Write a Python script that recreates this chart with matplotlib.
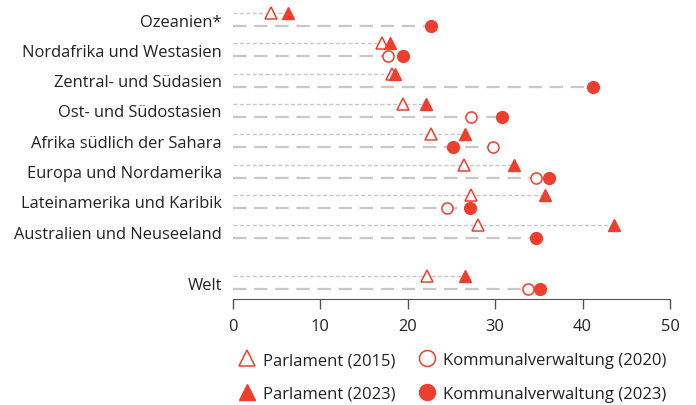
import matplotlib.pyplot as plt
from matplotlib.lines import Line2D
import numpy as np

regions = ['Ozeanien*', 'Nordafrika und Westasien', 'Zentral- und Südasien',
           'Ost- und Südostasien', 'Afrika südlich der Sahara',
           'Europa und Nordamerika', 'Lateinamerika und Karibik',
           'Australien und Neuseeland', 'Welt']
parl_2015 = [4.4, 17.1, 18.2, 19.4, 22.6, 26.4, 27.2, 28.0, 22.2]
parl_2023 = [6.3, 18.0, 18.5, 22.1, 26.5, 32.1, 35.7, 43.6, 26.5]
komm_2020 = [np.nan, 17.7, np.nan, 27.2, 29.7, 34.7, 24.5, np.nan, 33.7]
komm_2023 = [22.6, 19.4, 41.2, 30.8, 25.2, 36.2, 27.1, 34.7, 35.1]

RED = '#EE3E2D'
GREY = '#c8c8c8'

# row positions (Welt set apart a bit)
ypos = np.array([0, 1, 2, 3, 4, 5, 6, 7, 8.68])
off = 0.215

fig = plt.figure(figsize=(6.96, 4.06), dpi=100)
plt.rcParams['font.family'] = 'Open Sans'
ax = fig.add_axes([233/696, 106/406, 437/696, 300/406])

for i, y in enumerate(ypos):
    tmax = np.nanmax([parl_2015[i], parl_2023[i]])
    cmax = np.nanmax([komm_2020[i], komm_2023[i]])
    ax.plot([0, tmax], [y - off, y - off], color=GREY, lw=1.0,
            dashes=(3, 1.6), zorder=1)
    ax.plot([0, cmax], [y + off, y + off], color=GREY, lw=1.6,
            dashes=(6, 3.5), zorder=1)

ax.plot(parl_2015, ypos - off, '^', ls='none', ms=8, mfc='white',
        mec=RED, mew=1.1, zorder=3)
ax.plot(parl_2023, ypos - off, '^', ls='none', ms=8, color=RED, zorder=3)
ax.plot(komm_2020, ypos + off, 'o', ls='none', ms=8, mfc='white',
        mec=RED, mew=1.1, zorder=3)
ax.plot(komm_2023, ypos + off, 'o', ls='none', ms=8.5, color=RED, zorder=3)

ax.set_xlim(0, 50)
ax.set_ylim(9.22, -0.677)
ax.set_xticks([0, 10, 20, 30, 40, 50])
ax.set_yticks(ypos)
ax.set_yticklabels(regions)
ax.tick_params(axis='y', length=0, pad=8, labelsize=11.9, labelcolor='#222222')
ax.tick_params(axis='x', length=7, width=1, color='#555555', pad=7,
               labelsize=11.8, labelcolor='#222222')
for s in ['top', 'right', 'left']:
    ax.spines[s].set_visible(False)
ax.spines['bottom'].set_color('#555555')

handles = [
    Line2D([], [], marker='^', ls='none', ms=12, mfc='white', mec=RED, mew=1.1),
    Line2D([], [], marker='^', ls='none', ms=12, color=RED),
    Line2D([], [], marker='o', ls='none', ms=11.5, mfc='white', mec=RED, mew=1.1),
    Line2D([], [], marker='o', ls='none', ms=11.5, color=RED),
]
labels = ['Parlament (2015)', 'Parlament (2023)',
          'Kommunalverwaltung (2020)', 'Kommunalverwaltung (2023)']
fig.legend(handles, labels, ncol=2, loc='center', bbox_to_anchor=(453/696, 1 - 378/406),
           frameon=False, fontsize=12, handlelength=0.9, handletextpad=0.55,
           columnspacing=1.4, labelspacing=1.05, labelcolor='#222222')

fig.savefig('out.png', dpi=100)
